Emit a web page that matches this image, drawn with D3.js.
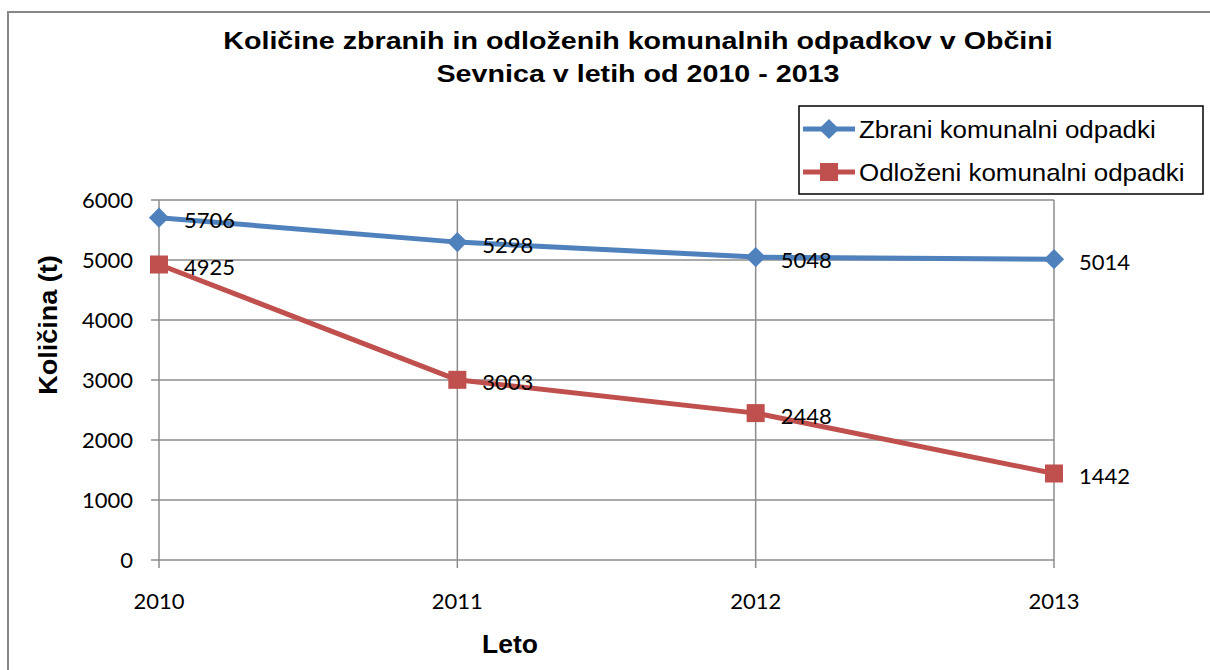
<!DOCTYPE html>
<html><head><meta charset="utf-8">
<script src="https://cdn.jsdelivr.net/npm/d3@7"></script>
<style>body{margin:0;background:#fff}svg{display:block}</style>
</head><body>
<svg id="c" width="1210" height="670"></svg>
<script>
const years = ["2010","2011","2012","2013"];
const zbrani = [5706, 5298, 5048, 5014];
const odlozeni = [4925, 3003, 2448, 1442];
const yTicks = [0,1000,2000,3000,4000,5000,6000];
const seriesNames = ["Zbrani komunalni odpadki","Odloženi komunalni odpadki"];
const titleLines = ["Količine zbranih in odloženih komunalnih odpadkov v Občini","Sevnica v letih od 2010 - 2013"];

const svg = d3.select("#c");
const blue = "#4F81BD", red = "#C0504D", grid = "#8c8c8c";
const numFont = "Lato, 'Open Sans', sans-serif";
const txtFont = "'Liberation Sans', Arial, sans-serif";
const numSX = 1.0;
const numSize = 22;

svg.append("rect").attr("x",8).attr("y",12).attr("width",1220).attr("height",680)
  .attr("fill","#fff").attr("stroke","#888").attr("stroke-width",2);

const x = d3.scalePoint().domain(years).range([159,1054]);
const y = d3.scaleLinear().domain([0,6000]).range([560,200]);

// horizontal gridlines
svg.append("g").selectAll("line").data(yTicks).join("line")
  .attr("x1",151).attr("x2",1054).attr("y1",d=>y(d)).attr("y2",d=>y(d))
  .attr("stroke",grid).attr("stroke-width",1.5);
// vertical gridlines
svg.append("g").selectAll("line").data(years).join("line")
  .attr("x1",d=>x(d)).attr("x2",d=>x(d)).attr("y1",200).attr("y2",568)
  .attr("stroke",grid).attr("stroke-width",1.5);

// y tick labels
svg.append("g").selectAll("text").data(yTicks).join("text")
  .attr("transform",d=>`translate(133,${y(d)+8}) scale(${numSX},1)`).attr("text-anchor","end")
  .attr("font-family",numFont).attr("font-size",numSize).attr("fill","#000").text(d=>d);
// x tick labels
svg.append("g").selectAll("text").data(years).join("text")
  .attr("transform",d=>`translate(${x(d)},609) scale(${numSX},1)`).attr("text-anchor","middle")
  .attr("font-family",numFont).attr("font-size",numSize).attr("fill","#000").text(d=>d);

// axis titles
svg.append("text").attr("transform","translate(510,653) scale(1.06,1)").attr("text-anchor","middle")
  .attr("font-family",txtFont).attr("font-weight","bold").attr("font-size",25).text("Leto");
svg.append("text").attr("transform","translate(57,325) rotate(-90) scale(1.08,1)").attr("text-anchor","middle")
  .attr("font-family",txtFont).attr("font-weight","bold").attr("font-size",25).text("Količina (t)");

// title
svg.append("g").selectAll("text").data(titleLines).join("text")
  .attr("transform",(d,i)=>`translate(638,${49+i*33}) scale(1.22,1)`).attr("text-anchor","middle")
  .attr("font-family",txtFont).attr("font-weight","bold").attr("font-size",23.5).text(d=>d);

const line = d3.line().x((d,i)=>x(years[i])).y(d=>y(d));
svg.append("path").datum(zbrani).attr("d",line).attr("fill","none").attr("stroke",blue).attr("stroke-width",5).attr("stroke-linejoin","round");
svg.append("path").datum(odlozeni).attr("d",line).attr("fill","none").attr("stroke",red).attr("stroke-width",5).attr("stroke-linejoin","round");

const diamond = d3.symbol().type(d3.symbolDiamond2).size(260);
svg.append("g").selectAll("path").data(zbrani).join("path")
  .attr("transform",(d,i)=>`translate(${x(years[i])},${y(d)})`).attr("d",diamond).attr("fill",blue);
svg.append("g").selectAll("rect").data(odlozeni).join("rect")
  .attr("x",(d,i)=>x(years[i])-9).attr("y",d=>y(d)-9).attr("width",18).attr("height",18).attr("fill",red);

// data labels
function labels(data){
  svg.append("g").selectAll("text").data(data).join("text")
    .attr("transform",(d,i)=>`translate(${x(years[i])+25},${y(d)+10.5}) scale(${numSX},1)`)
    .attr("font-family",numFont).attr("font-size",numSize).attr("fill","#000").text(d=>d);
}
labels(zbrani); labels(odlozeni);

// legend
const lg = svg.append("g");
lg.append("rect").attr("x",799).attr("y",106).attr("width",404).attr("height",88)
  .attr("fill","#fff").attr("stroke","#000").attr("stroke-width",1.5);
const rowsY = [129,172];
const cols = [blue, red];
seriesNames.forEach((n,i)=>{
  lg.append("line").attr("x1",803).attr("x2",855).attr("y1",rowsY[i]).attr("y2",rowsY[i])
    .attr("stroke",cols[i]).attr("stroke-width",5);
  if(i===0) lg.append("path").attr("transform",`translate(829,${rowsY[i]})`).attr("d",diamond).attr("fill",blue);
  else lg.append("rect").attr("x",820).attr("y",rowsY[i]-9).attr("width",18).attr("height",18).attr("fill",red);
  lg.append("text").attr("transform",`translate(859,${rowsY[i]+8.5}) scale(1.08,1)`)
    .attr("font-family",txtFont).attr("font-size",24).text(n);
});
</script>
</body></html>
